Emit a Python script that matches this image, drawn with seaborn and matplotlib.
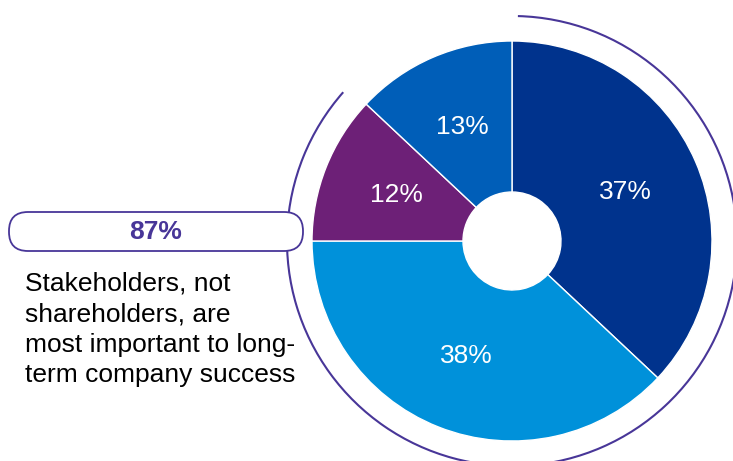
import matplotlib
matplotlib.use("Agg")
import matplotlib.pyplot as plt
from matplotlib.patches import Arc, FancyBboxPatch
import seaborn as sns

# data
shares = [37, 38, 12, 13]
share_labels = ["37%", "38%", "12%", "13%"]
slice_colors = ["#00338D", "#0091DA", "#6D2077", "#005EB8"]
headline = "87%"
caption = "Stakeholders, not\nshareholders, are\nmost important to long-\nterm company success"

sns.set_theme(style="white")
plt.rcParams["font.family"] = ["Liberation Sans", "DejaVu Sans"]

W, H = 733, 461
purple = "#483698"

fig = plt.figure(figsize=(W / 100, H / 100), dpi=100)
ax = fig.add_axes([0, 0, 1, 1])

cx, cy, r = 512, H - 241, 200
wedges, texts = ax.pie(
    shares,
    labels=share_labels,
    colors=slice_colors,
    startangle=90,
    counterclock=False,
    radius=r,
    center=(cx, cy),
    labeldistance=0.62,
    wedgeprops=dict(width=r - 49, edgecolor="white", linewidth=1),
    textprops=dict(color="white", fontsize=19, ha="center", va="center"),
)

# outer ring around the donut, with a gap at the upper left
ax.add_patch(Arc((cx, cy), 450, 450, theta1=138.6, theta2=448.5,
                 color=purple, lw=1.5))

# callout box with the headline number
box = FancyBboxPatch((9, H - 251), 294, 39,
                     boxstyle="round,pad=0,rounding_size=19",
                     facecolor="white", edgecolor=purple, lw=1.3, zorder=3)
ax.add_patch(box)
ax.text(156, H - 232, headline, color=purple, fontsize=19, fontweight="bold",
        ha="center", va="center", zorder=4)

ax.text(25, H - 272, caption, color="black", fontsize=19, ha="left", va="top",
        linespacing=1.34)

ax.set_xlim(0, W)
ax.set_ylim(0, H)
ax.set_aspect("equal")
ax.axis("off")

fig.savefig("out.png", dpi=100)
